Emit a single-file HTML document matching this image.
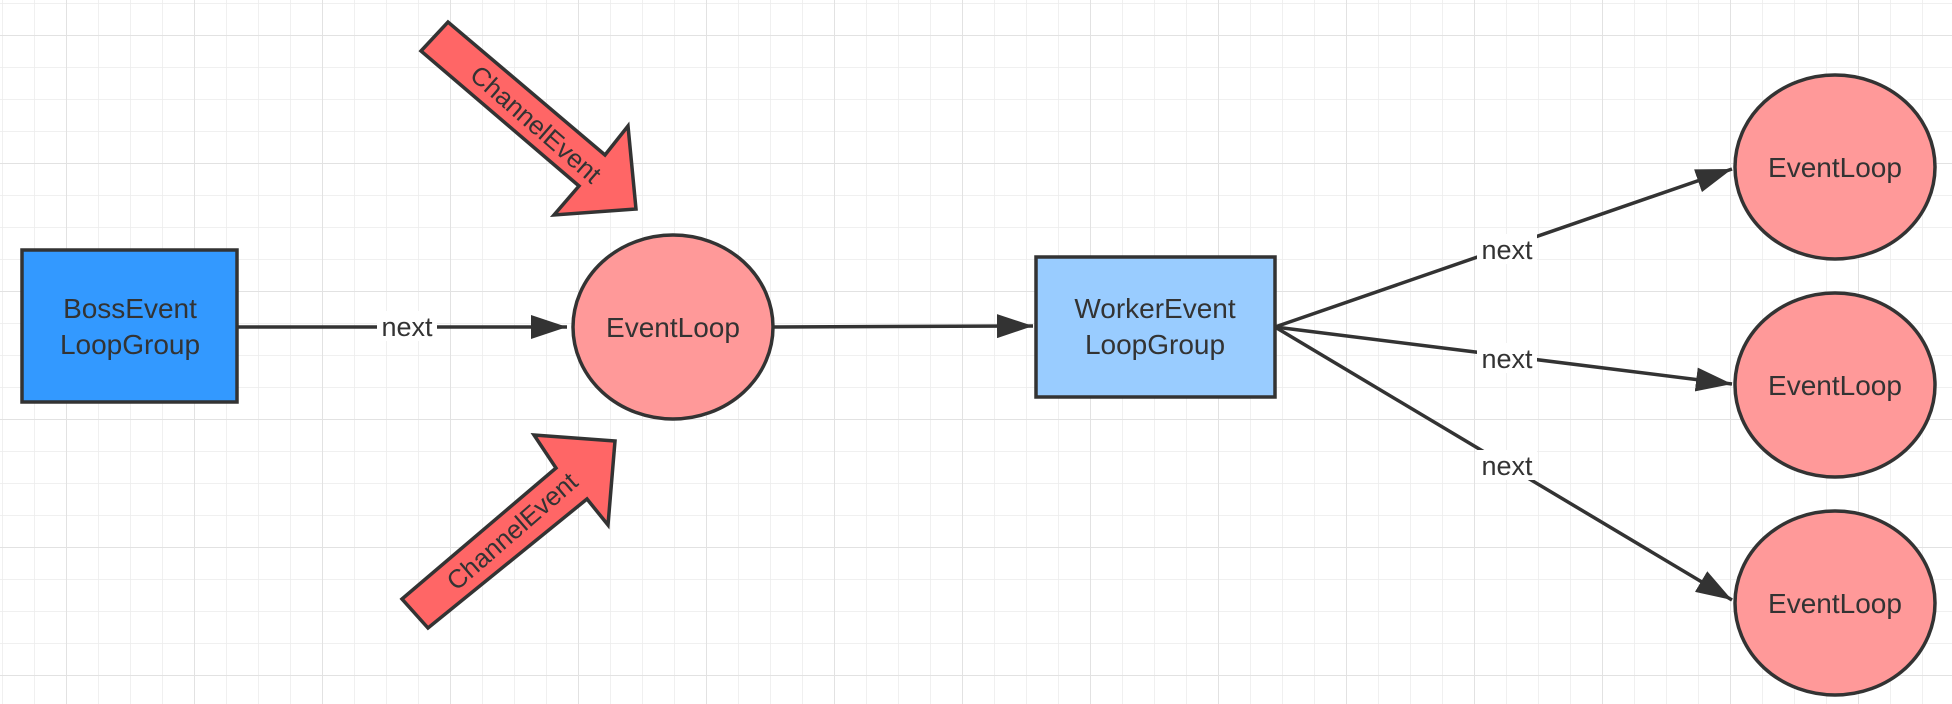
<!DOCTYPE html>
<html><head><meta charset="utf-8"><style>
html,body{margin:0;padding:0;background:#fff;}
svg{display:block;}
text{font-family:"Liberation Sans",sans-serif;fill:#333;}
</style></head><body>
<svg width="1952" height="704" viewBox="0 0 1952 704" xmlns="http://www.w3.org/2000/svg">
<defs>
<pattern id="g" x="2" y="3" width="32" height="32" patternUnits="userSpaceOnUse">
<path d="M0 0H32M0 0V32" stroke="#ececec" stroke-width="1.5" fill="none"/></pattern>
<pattern id="G" x="66" y="35" width="128" height="128" patternUnits="userSpaceOnUse">
<path d="M0 0H128M0 0V128" stroke="#e2e2e2" stroke-width="2" fill="none"/></pattern>
<marker id="b" markerWidth="36" markerHeight="24" refX="36" refY="12" orient="auto" markerUnits="userSpaceOnUse" viewBox="0 0 36 24">
<path d="M0 0L36 12L0 24z" fill="#333"/></marker>
</defs>
<rect width="1952" height="704" fill="url(#g)"/>
<rect width="1952" height="704" fill="url(#G)"/>

<g stroke="#333" stroke-width="3.5" fill="none">
<line x1="237" y1="327" x2="567" y2="327" marker-end="url(#b)"/>
<line x1="774" y1="327" x2="1033" y2="326" marker-end="url(#b)"/>
<line x1="1275" y1="327" x2="1732" y2="169" marker-end="url(#b)"/>
<line x1="1275" y1="327" x2="1732" y2="384" marker-end="url(#b)"/>
<line x1="1275" y1="327" x2="1732" y2="600" marker-end="url(#b)"/>
</g>

<rect x="22" y="250" width="215" height="152" fill="#3399ff" stroke="#333" stroke-width="3.5"/>
<text x="130" y="318" font-size="28" text-anchor="middle">BossEvent</text>
<text x="130" y="354" font-size="28" text-anchor="middle">LoopGroup</text>

<ellipse cx="673" cy="327" rx="100" ry="92" fill="#ff9999" stroke="#333" stroke-width="3.5"/>
<text x="673" y="337" font-size="28" text-anchor="middle">EventLoop</text>

<rect x="1036" y="257" width="239" height="140" fill="#99ccff" stroke="#333" stroke-width="3.5"/>
<text x="1155" y="318" font-size="28" text-anchor="middle">WorkerEvent</text>
<text x="1155" y="354" font-size="28" text-anchor="middle">LoopGroup</text>

<g fill="#ff9999" stroke="#333" stroke-width="3.5">
<ellipse cx="1835" cy="167" rx="100" ry="92"/>
<ellipse cx="1835" cy="385" rx="100" ry="92"/>
<ellipse cx="1835" cy="603" rx="100" ry="92"/>
</g>
<text x="1835" y="177" font-size="28" text-anchor="middle">EventLoop</text>
<text x="1835" y="395" font-size="28" text-anchor="middle">EventLoop</text>
<text x="1835" y="613" font-size="28" text-anchor="middle">EventLoop</text>

<g font-size="27" text-anchor="middle">
<rect x="377" y="311" width="60" height="30" fill="#fff"/>
<text x="407" y="336">next</text>
<rect x="1477" y="234" width="60" height="30" fill="#fff"/>
<text x="1507" y="259">next</text>
<rect x="1477" y="343" width="60" height="30" fill="#fff"/>
<text x="1507" y="368">next</text>
<rect x="1477" y="450" width="60" height="30" fill="#fff"/>
<text x="1507" y="475">next</text>
</g>

<g fill="#ff6666" stroke="#333" stroke-width="3.5" stroke-linejoin="miter">
<polygon points="421,51 448,22 605,155 628,126 636,209 554,215 579,186"/>
<polygon points="402,599 556,468 534,435 615,441 608,525 587,499 428,628"/>
</g>
<text font-size="26" text-anchor="middle" transform="translate(530,131) rotate(41)">ChannelEvent</text>
<text font-size="26" text-anchor="middle" transform="translate(518,538) rotate(-41)">ChannelEvent</text>
</svg>
</body></html>
